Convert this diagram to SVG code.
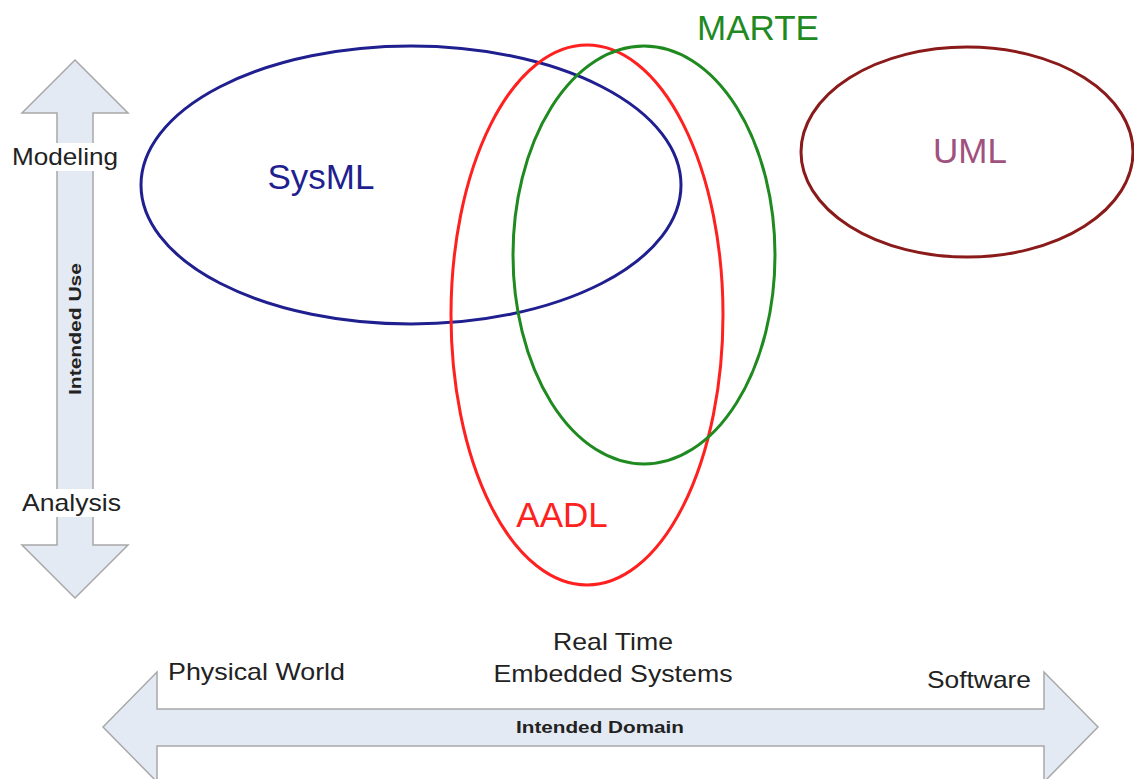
<svg xmlns="http://www.w3.org/2000/svg" width="1134" height="779" viewBox="0 0 1134 779">
<style>
.arrow{fill:#e4eaf4;stroke:#a8a8a8;stroke-width:1.5}
.ell{fill:none;stroke-width:3}
.lbl{font-family:"Liberation Sans",Arial,sans-serif;font-size:35px}
.axis{font-family:"Liberation Sans",Arial,sans-serif;font-size:24px;fill:#222}
.bold{font-family:"Liberation Sans",Arial,sans-serif;font-size:17px;font-weight:bold;fill:#222}
</style>
<rect width="1134" height="779" fill="#fff"/>
<g id="use-axis">
<path class="arrow" d="M75,60 L128,113 L93,113 L93,545 L128,545 L75,598 L22,545 L57,545 L57,113 L22,113 Z"/>
<rect x="10" y="143" width="110" height="28" fill="#fff"/>
<rect x="20" y="489" width="104" height="28" fill="#fff"/>
<text class="axis" x="12" y="165" textLength="106" lengthAdjust="spacingAndGlyphs">Modeling</text>
<text class="axis" x="22" y="511" textLength="99" lengthAdjust="spacingAndGlyphs">Analysis</text>
<text class="bold" transform="translate(81,329) rotate(-90)" text-anchor="middle" textLength="132" lengthAdjust="spacingAndGlyphs">Intended Use</text>
</g>
<g id="domain-axis">
<path class="arrow" d="M103,727 L157,672 L157,709 L1044,709 L1044,672 L1098,727 L1044,782 L1044,746 L157,746 L157,782 Z"/>
<text class="bold" x="600" y="733" text-anchor="middle" textLength="168" lengthAdjust="spacingAndGlyphs">Intended Domain</text>
<text class="axis" x="168" y="680" textLength="177" lengthAdjust="spacingAndGlyphs">Physical World</text>
<text class="axis" x="613" y="650" text-anchor="middle" textLength="120" lengthAdjust="spacingAndGlyphs">Real Time</text>
<text class="axis" x="613" y="682" text-anchor="middle" textLength="239" lengthAdjust="spacingAndGlyphs">Embedded Systems</text>
<text class="axis" x="927" y="688" textLength="104" lengthAdjust="spacingAndGlyphs">Software</text>
</g>
<g id="sysml">
<ellipse class="ell" cx="411" cy="185" rx="270" ry="139" stroke="#1f1f8f"/>
<text class="lbl" x="321" y="189" text-anchor="middle" fill="#1f1f8f">SysML</text>
</g>
<g id="aadl">
<ellipse class="ell" cx="587" cy="315" rx="136" ry="270" stroke="#ff2020"/>
<text class="lbl" x="562" y="527" text-anchor="middle" fill="#ff2020">AADL</text>
</g>
<g id="marte">
<ellipse class="ell" cx="644" cy="255" rx="131" ry="209" stroke="#1f8a1f"/>
<text class="lbl" x="758" y="40" text-anchor="middle" fill="#1f8a1f">MARTE</text>
</g>
<g id="uml">
<ellipse class="ell" cx="967" cy="152" rx="166" ry="105" stroke="#8b1a1a"/>
<text class="lbl" x="970" y="163" text-anchor="middle" fill="#a0527e">UML</text>
</g>
<g id="connectors"/>
</svg>
